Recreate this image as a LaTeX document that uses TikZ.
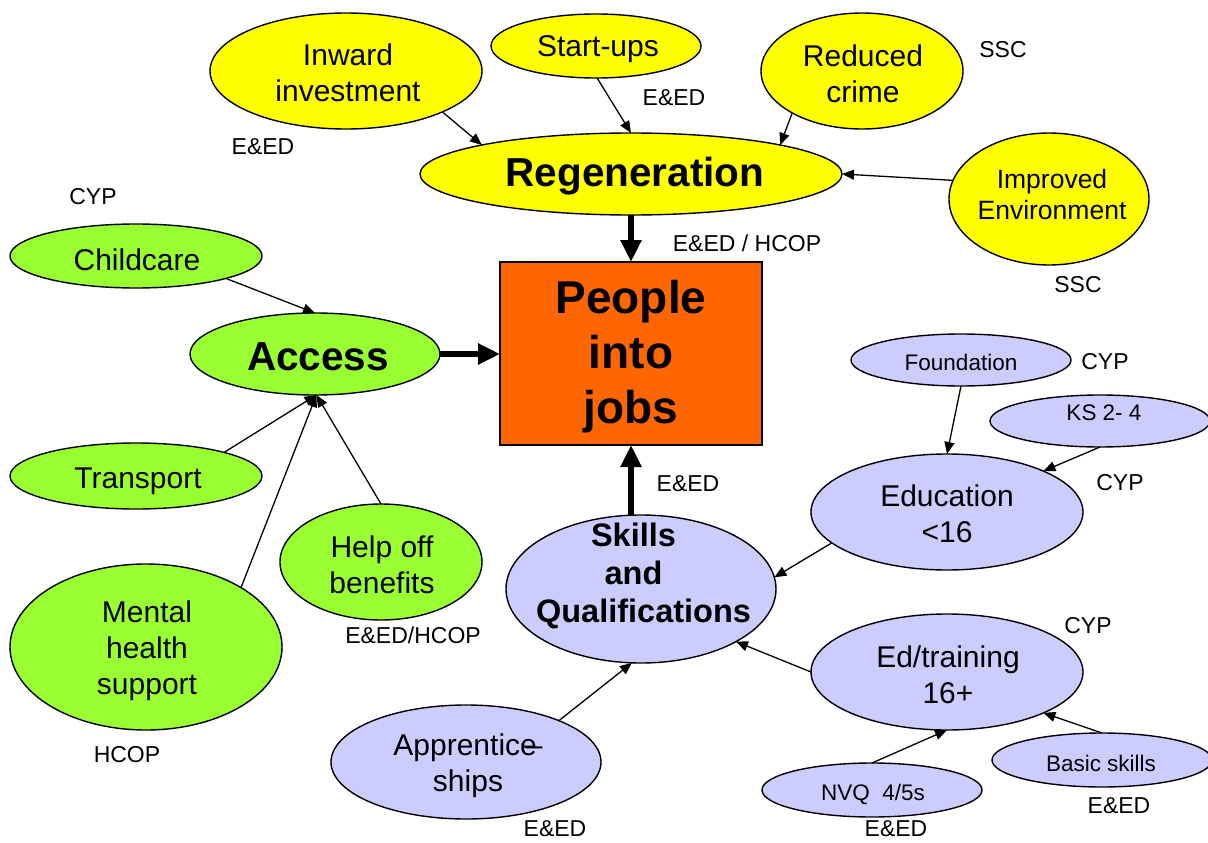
\documentclass[tikz,border=0pt]{standalone}
\usepackage{fontspec}
\setmainfont{Liberation Sans}
\usetikzlibrary{shapes.geometric,arrows.meta}
\definecolor{yellowc}{HTML}{FFFF00}
\definecolor{greenc}{HTML}{99FF33}
\definecolor{lavc}{HTML}{CCCCFF}
\definecolor{orangec}{HTML}{FF6600}
\begin{document}
\begin{tikzpicture}[x=1pt,y=-1pt,
  ell/.style={ellipse,draw=black,line width=1.4pt,inner sep=0pt,outer sep=0pt},
  yel/.style={ell,fill=yellowc},
  grn/.style={ell,fill=greenc},
  lav/.style={ell,fill=lavc},
  big/.style={font=\fontsize{30}{36}\selectfont,align=center,inner sep=0pt},
  small/.style={font=\fontsize{22.5}{27}\selectfont,align=center,inner sep=0pt},
  lbl/.style={font=\fontsize{23}{27}\selectfont,inner sep=0pt},
  bld/.style={font=\bfseries\fontsize{40.5}{48}\selectfont,align=center,inner sep=0pt},
  arr/.style={line width=1.3pt,-{Triangle[length=12pt,width=10pt]}},
  tarr/.style={line width=6.5pt,-{Triangle[length=22pt,width=20pt]}},
]
\useasboundingbox (0,0) rectangle (1208,843);
\clip (0,0) rectangle (1208,843);
\fill[white] (0,0) rectangle (1208,843);

% shapes
\node[yel,minimum width=272pt,minimum height=116pt] (inv) at (346,71) {};
\node[yel,minimum width=210pt,minimum height=64pt] (start) at (596,46) {};
\node[yel,minimum width=202pt,minimum height=116pt] (crime) at (862,71) {};
\node[yel,minimum width=422pt,minimum height=82pt] (regen) at (631,174) {};
\node[yel,minimum width=200pt,minimum height=132pt] (env) at (1049,199) {};
\node[grn,minimum width=252pt,minimum height=64pt] (child) at (136,256) {};
\node[grn,minimum width=250pt,minimum height=82pt] (access) at (315,354) {};
\node[draw=black,line width=1.4pt,fill=orangec,minimum width=262pt,minimum height=183pt,inner sep=0pt,outer sep=0pt] (people) at (631,353.5) {};
\node[lav,minimum width=220pt,minimum height=52pt] (found) at (961,360) {};
\node[lav,minimum width=220pt,minimum height=52pt] (ks) at (1100,421) {};
\node[grn,minimum width=252pt,minimum height=66pt] (trans) at (136,476) {};
\node[lav,minimum width=272pt,minimum height=116pt] (edu) at (947,512) {};
\node[lav,minimum width=270pt,minimum height=148pt] (skills) at (641,589) {};
\node[grn,minimum width=202pt,minimum height=116pt] (help) at (381,562) {};
\node[grn,minimum width=272pt,minimum height=166pt] (mental) at (146,647) {};
\node[lav,minimum width=272pt,minimum height=116pt] (edtr) at (947,672) {};
\node[lav,minimum width=270pt,minimum height=114pt] (appr) at (466,762) {};
\node[lav,minimum width=220pt,minimum height=54pt] (basic) at (1102,760) {};
\node[lav,minimum width=220pt,minimum height=54pt] (nvq) at (872,790) {};

% connectors
\draw[arr] (inv.-23) -- (regen.169);
\draw[arr] (start.-88) -- (regen.north);
\draw[arr] (crime.-149) -- (regen.11);
\draw[arr] (env.169) -- (regen.east);
\draw[tarr] (regen.south) -- (people.north);
\draw[arr] (child.-14) -- (access.north);
\draw[tarr] (access.east) -- (access.east -| people.west);
\draw[arr] (trans.15) -- (access.-88);
\draw[arr] (mental.32) -- (access.-88);
\draw[arr] (help.north) -- (access.-88);
\draw[arr] (found.south) -- (edu.north);
\draw[arr] (ks.south) -- (edu.23);
\draw[arr] (edu.-165.5) -- (skills.5.5);
\draw[arr] (edtr.west) -- (skills.-29);
\draw[arr] (appr.24) -- (skills.-97);
\draw[arr] (nvq.north) -- (edtr.south);
\draw[arr] (basic.north) -- (edtr.-23);
\draw[tarr] (people.south |- skills.north) -- (people.south);

% texts
\node[big] (tinv) at (348,73) {Inward\\investment};
\node[big] (tstart) at (598,49) {Start-ups};
\node[big] (tcrime) at (863,74) {Reduced\\crime};
\node[bld] (tregen) at (635,176) {Regeneration};
\node[font=\fontsize{26.5}{31}\selectfont,align=center,inner sep=0pt] (tenv) at (1052,195) {Improved\\Environment};
\node[big] (tchild) at (137,260) {Childcare};
\node[bld] (taccess) at (318,357) {Access};
\node[font=\bfseries\fontsize{46}{55}\selectfont,align=center,inner sep=0pt] (tpeople) at (631,357) {People\\into\\jobs};
\node[small] (tfound) at (961,362) {Foundation};
\node[small] (tks) at (1104,413) {KS 2- 4};
\node[big] (ttrans) at (138,481) {Transport};
\node[big] (tedu) at (947,514) {Education\\<16};
\node[font=\bfseries\fontsize{32.5}{38}\selectfont,align=center,inner sep=0pt] (tskills) at (643.5,576) {Skills\rule{20pt}{0pt}\\and\rule{20pt}{0pt}\\Qualifications};
\node[big] (thelp) at (382,565) {Help off\\benefits};
\node[big] (tmental) at (147,651) {Mental\\health\\support};
\node[big] (tedtr) at (948,675) {Ed/training\\16+};
\node[big] (tappr) at (468,766) {Apprentice\kern-11pt--\\ships};
\node[small] (tbasic) at (1101,763) {Basic skills};
\node[small] (tnvq) at (873,794) {NVQ~~4/5s};

% labels
\node[lbl] (l1) at (263,147) {E\&ED};
\node[lbl] (l2) at (674,98) {E\&ED};
\node[lbl] (l3) at (1003,50) {SSC};
\node[lbl] (l4) at (1078,285) {SSC};
\node[lbl] (l5) at (747,243) {E\&ED / HCOP};
\node[lbl] (l6) at (93,197) {CYP};
\node[lbl] (l7) at (1105,362) {CYP};
\node[lbl] (l8) at (1120,483) {CYP};
\node[lbl] (l9) at (688,484) {E\&ED};
\node[lbl] (l10) at (413,635) {E\&ED/HCOP};
\node[lbl] (l11) at (1088,626) {CYP};
\node[lbl] (l12) at (127,755) {HCOP};
\node[lbl] (l13) at (555,829) {E\&ED};
\node[lbl] (l14) at (896,829) {E\&ED};
\node[lbl] (l15) at (1119,806) {E\&ED};
\end{tikzpicture}
\end{document}
